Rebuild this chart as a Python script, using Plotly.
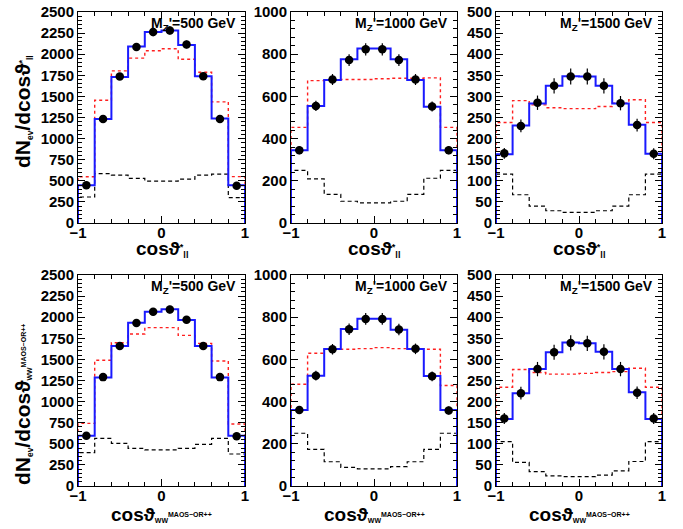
import plotly.graph_objects as go

W, H = 683, 529

edges = [-1.0, -0.8, -0.6, -0.4, -0.2, 0.0, 0.2, 0.4, 0.6, 0.8, 1.0]
centers = [-0.9, -0.7, -0.5, -0.3, -0.1, 0.1, 0.3, 0.5, 0.7, 0.9]

# --- top row: cos theta*_ll ---
top500_blue = [448, 1232, 1730, 2092, 2262, 2282, 2110, 1740, 1238, 448]
top500_red = [548, 1455, 1803, 1953, 2040, 2065, 1940, 1787, 1435, 550]
top500_black = [308, 585, 568, 528, 496, 496, 520, 567, 578, 300]
top500_pts = [448, 1232, 1735, 2085, 2262, 2282, 2115, 1738, 1232, 442]
top500_err = [21, 35, 42, 46, 48, 48, 46, 42, 35, 21]

top1000_blue = [345, 555, 678, 776, 827, 827, 776, 678, 551, 345]
top1000_red = [453, 675, 679, 680, 680, 684, 686, 686, 688, 453]
top1000_black = [249, 209, 136, 103, 95, 95, 103, 136, 212, 249]
top1000_pts = [345, 555, 680, 772, 823, 823, 772, 680, 552, 345]
top1000_err = [19, 24, 26, 28, 29, 29, 28, 26, 24, 19]

top1500_blue = [163, 231, 283, 325, 348, 347, 325, 283, 233, 164]
top1500_red = [238, 290, 280, 273, 271, 271, 276, 284, 292, 238]
top1500_black = [116, 67, 40, 29, 25, 25, 29, 40, 67, 116]
top1500_pts = [165, 230, 285, 325, 347, 347, 325, 284, 232, 164]
top1500_err = [13, 15, 17, 18, 19, 19, 18, 17, 15, 13]

# --- bottom row: cos theta_WW^MAOS-OR++ ---
bot500_blue = [596, 1287, 1659, 1935, 2066, 2093, 1967, 1659, 1287, 596]
bot500_red = [742, 1490, 1698, 1801, 1876, 1876, 1785, 1690, 1481, 735]
bot500_black = [395, 565, 506, 446, 427, 427, 446, 494, 565, 379]
bot500_pts = [596, 1290, 1660, 1930, 2065, 2090, 1970, 1660, 1290, 590]
bot500_err = [24, 36, 41, 44, 45, 46, 44, 41, 36, 24]

bot1000_blue = [360, 523, 649, 744, 793, 793, 741, 649, 521, 360]
bot1000_red = [482, 629, 648, 648, 651, 656, 651, 651, 648, 476]
bot1000_black = [250, 174, 115, 88, 81, 81, 92, 115, 174, 250]
bot1000_pts = [360, 523, 648, 743, 792, 792, 742, 650, 520, 358]
bot1000_err = [19, 23, 25, 27, 28, 28, 27, 25, 23, 19]

bot1500_blue = [159, 220, 277, 317, 340, 338, 318, 277, 222, 159]
bot1500_red = [234, 276, 269, 265, 265, 267, 269, 271, 279, 234]
bot1500_black = [105, 56, 34, 24, 22, 22, 26, 36, 58, 105]
bot1500_pts = [160, 220, 277, 317, 339, 338, 318, 277, 221, 160]
bot1500_err = [13, 15, 17, 18, 18, 18, 18, 17, 15, 13]

mass_labels = ["M<sub>Z</sub>'=500 GeV", "M<sub>Z</sub>'=1000 GeV", "M<sub>Z</sub>'=1500 GeV"]
y_ranges = [2500, 1000, 500]
y_dticks = [250, 200, 50]
y_minor = [50, 40, 10]

panels = [
    (top500_blue, top500_red, top500_black, top500_pts, top500_err),
    (top1000_blue, top1000_red, top1000_black, top1000_pts, top1000_err),
    (top1500_blue, top1500_red, top1500_black, top1500_pts, top1500_err),
    (bot500_blue, bot500_red, bot500_black, bot500_pts, bot500_err),
    (bot1000_blue, bot1000_red, bot1000_black, bot1000_pts, bot1000_err),
    (bot1500_blue, bot1500_red, bot1500_black, bot1500_pts, bot1500_err),
]

# pixel boxes of the six plot areas
col_px = [(78, 245), (291, 457), (496, 662)]
row_px = [(12, 223), (275, 486)]

FONT = "Liberation Sans"


def small(t, size):
    return f"<span style='font-size:{size}px'>{t}</span>"


def step(vals):
    xs = [edges[0]] + edges[:-1] + [edges[-1], edges[-1]]
    ys = [0] + list(vals) + [vals[-1], 0]
    return xs, ys


fig = go.Figure()
layout = {}
annotations = []
for i, (blue, red, black, pts, err) in enumerate(panels):
    r, c = divmod(i, 3)
    n = i + 1
    xa = "x" if n == 1 else f"x{n}"
    ya = "y" if n == 1 else f"y{n}"
    xs, ys = step(black)
    fig.add_trace(go.Scatter(x=xs, y=ys, mode="lines", line_shape="hv",
                             line=dict(color="black", width=1.2, dash="4px,3px"),
                             xaxis=xa, yaxis=ya, hoverinfo="skip"))
    xs, ys = step(red)
    fig.add_trace(go.Scatter(x=xs, y=ys, mode="lines", line_shape="hv",
                             line=dict(color="#ff2020", width=1.4, dash="dot"),
                             xaxis=xa, yaxis=ya, hoverinfo="skip"))
    xs, ys = step(blue)
    fig.add_trace(go.Scatter(x=xs, y=ys, mode="lines", line_shape="hv",
                             line=dict(color="#1a1aff", width=2),
                             xaxis=xa, yaxis=ya, hoverinfo="skip"))
    fig.add_trace(go.Scatter(x=centers, y=pts, mode="markers",
                             marker=dict(color="black", size=8.5),
                             error_y=dict(type="data", array=err, color="black",
                                          thickness=1.2, width=0),
                             xaxis=xa, yaxis=ya))
    x0, x1 = col_px[c]
    y0, y1 = row_px[r]
    xdom = [x0 / W, x1 / W]
    ydom = [1 - y1 / H, 1 - y0 / H]
    tickfont = dict(family=FONT, size=15, color="black", weight="bold")
    layout["xaxis" if n == 1 else f"xaxis{n}"] = dict(
        domain=xdom, anchor=ya, range=[-1, 1], tickvals=[-1, 0, 1],
        ticks="inside", ticklen=7, tickcolor="black", showline=True,
        linecolor="black", linewidth=1, mirror="allticks", showgrid=False,
        zeroline=False, tickfont=tickfont, automargin=False,
        ticklabelstandoff=-4,
        minor=dict(ticks="inside", ticklen=4, dtick=0.2, tick0=-1,
                   tickcolor="black", showgrid=False))
    ymax = y_ranges[c]
    layout["yaxis" if n == 1 else f"yaxis{n}"] = dict(
        domain=ydom, anchor=xa, range=[0, ymax], dtick=y_dticks[c], tick0=0,
        ticks="inside", ticklen=7, tickcolor="black", showline=True,
        linecolor="black", linewidth=1, mirror="allticks", showgrid=False,
        zeroline=False, tickfont=tickfont, automargin=False,
        minor=dict(ticks="inside", ticklen=4, dtick=y_minor[c],
                   tickcolor="black", showgrid=False))
    annotations.append(dict(
        x=(x1 - 7) / W, y=1 - (y0 + 12) / H, xref="paper", yref="paper",
        xanchor="right", yanchor="middle", showarrow=False,
        text=mass_labels[c], font=dict(family=FONT, size=14, color="black", weight="bold")))
    # x titles
    if r == 0:
        xt = "cos\u03d1" + small("<sup>*</sup>", 13) + small("<sub>ll</sub>", 13)
        ypix = 249
    else:
        xt = "cos\u03d1" + small("<sub>WW</sub>", 10) + small("<sup>MAOS\u2212OR++</sup>", 10)
        ypix = 514
    annotations.append(dict(
        x=(x0 + x1) / 2 / W, y=1 - ypix / H, xref="paper", yref="paper",
        xanchor="center", yanchor="middle", showarrow=False,
        text=xt, font=dict(family=FONT, size=19, color="black", weight="bold")))

annotations.append(dict(
    x=23 / W, y=1 - 112 / H, xref="paper", yref="paper", textangle=-90,
    xanchor="center", yanchor="middle", showarrow=False,
    text="dN" + small("<sub>ev</sub>", 12) + "/dcos\u03d1" + small("<sup>*</sup>", 13) + small("<sub>ll</sub>", 12),
    font=dict(family=FONT, size=21, color="black", weight="bold")))
annotations.append(dict(
    x=23 / W, y=1 - 405 / H, xref="paper", yref="paper", textangle=-90,
    xanchor="center", yanchor="middle", showarrow=False,
    text="dN" + small("<sub>ev</sub>", 12) + "/dcos\u03d1" + small("<sub>WW</sub>", 10) + small("<sup>MAOS\u2212OR++</sup>", 10),
    font=dict(family=FONT, size=21, color="black", weight="bold")))

fig.update_layout(
    width=W, height=H, margin=dict(l=0, r=0, t=0, b=0, autoexpand=False),
    paper_bgcolor="white", plot_bgcolor="white", showlegend=False,
    annotations=annotations, **layout)

fig.write_html("out.html", config={"displayModeBar": False},
               post_script="document.body.style.margin='0';document.body.style.padding='0';")
